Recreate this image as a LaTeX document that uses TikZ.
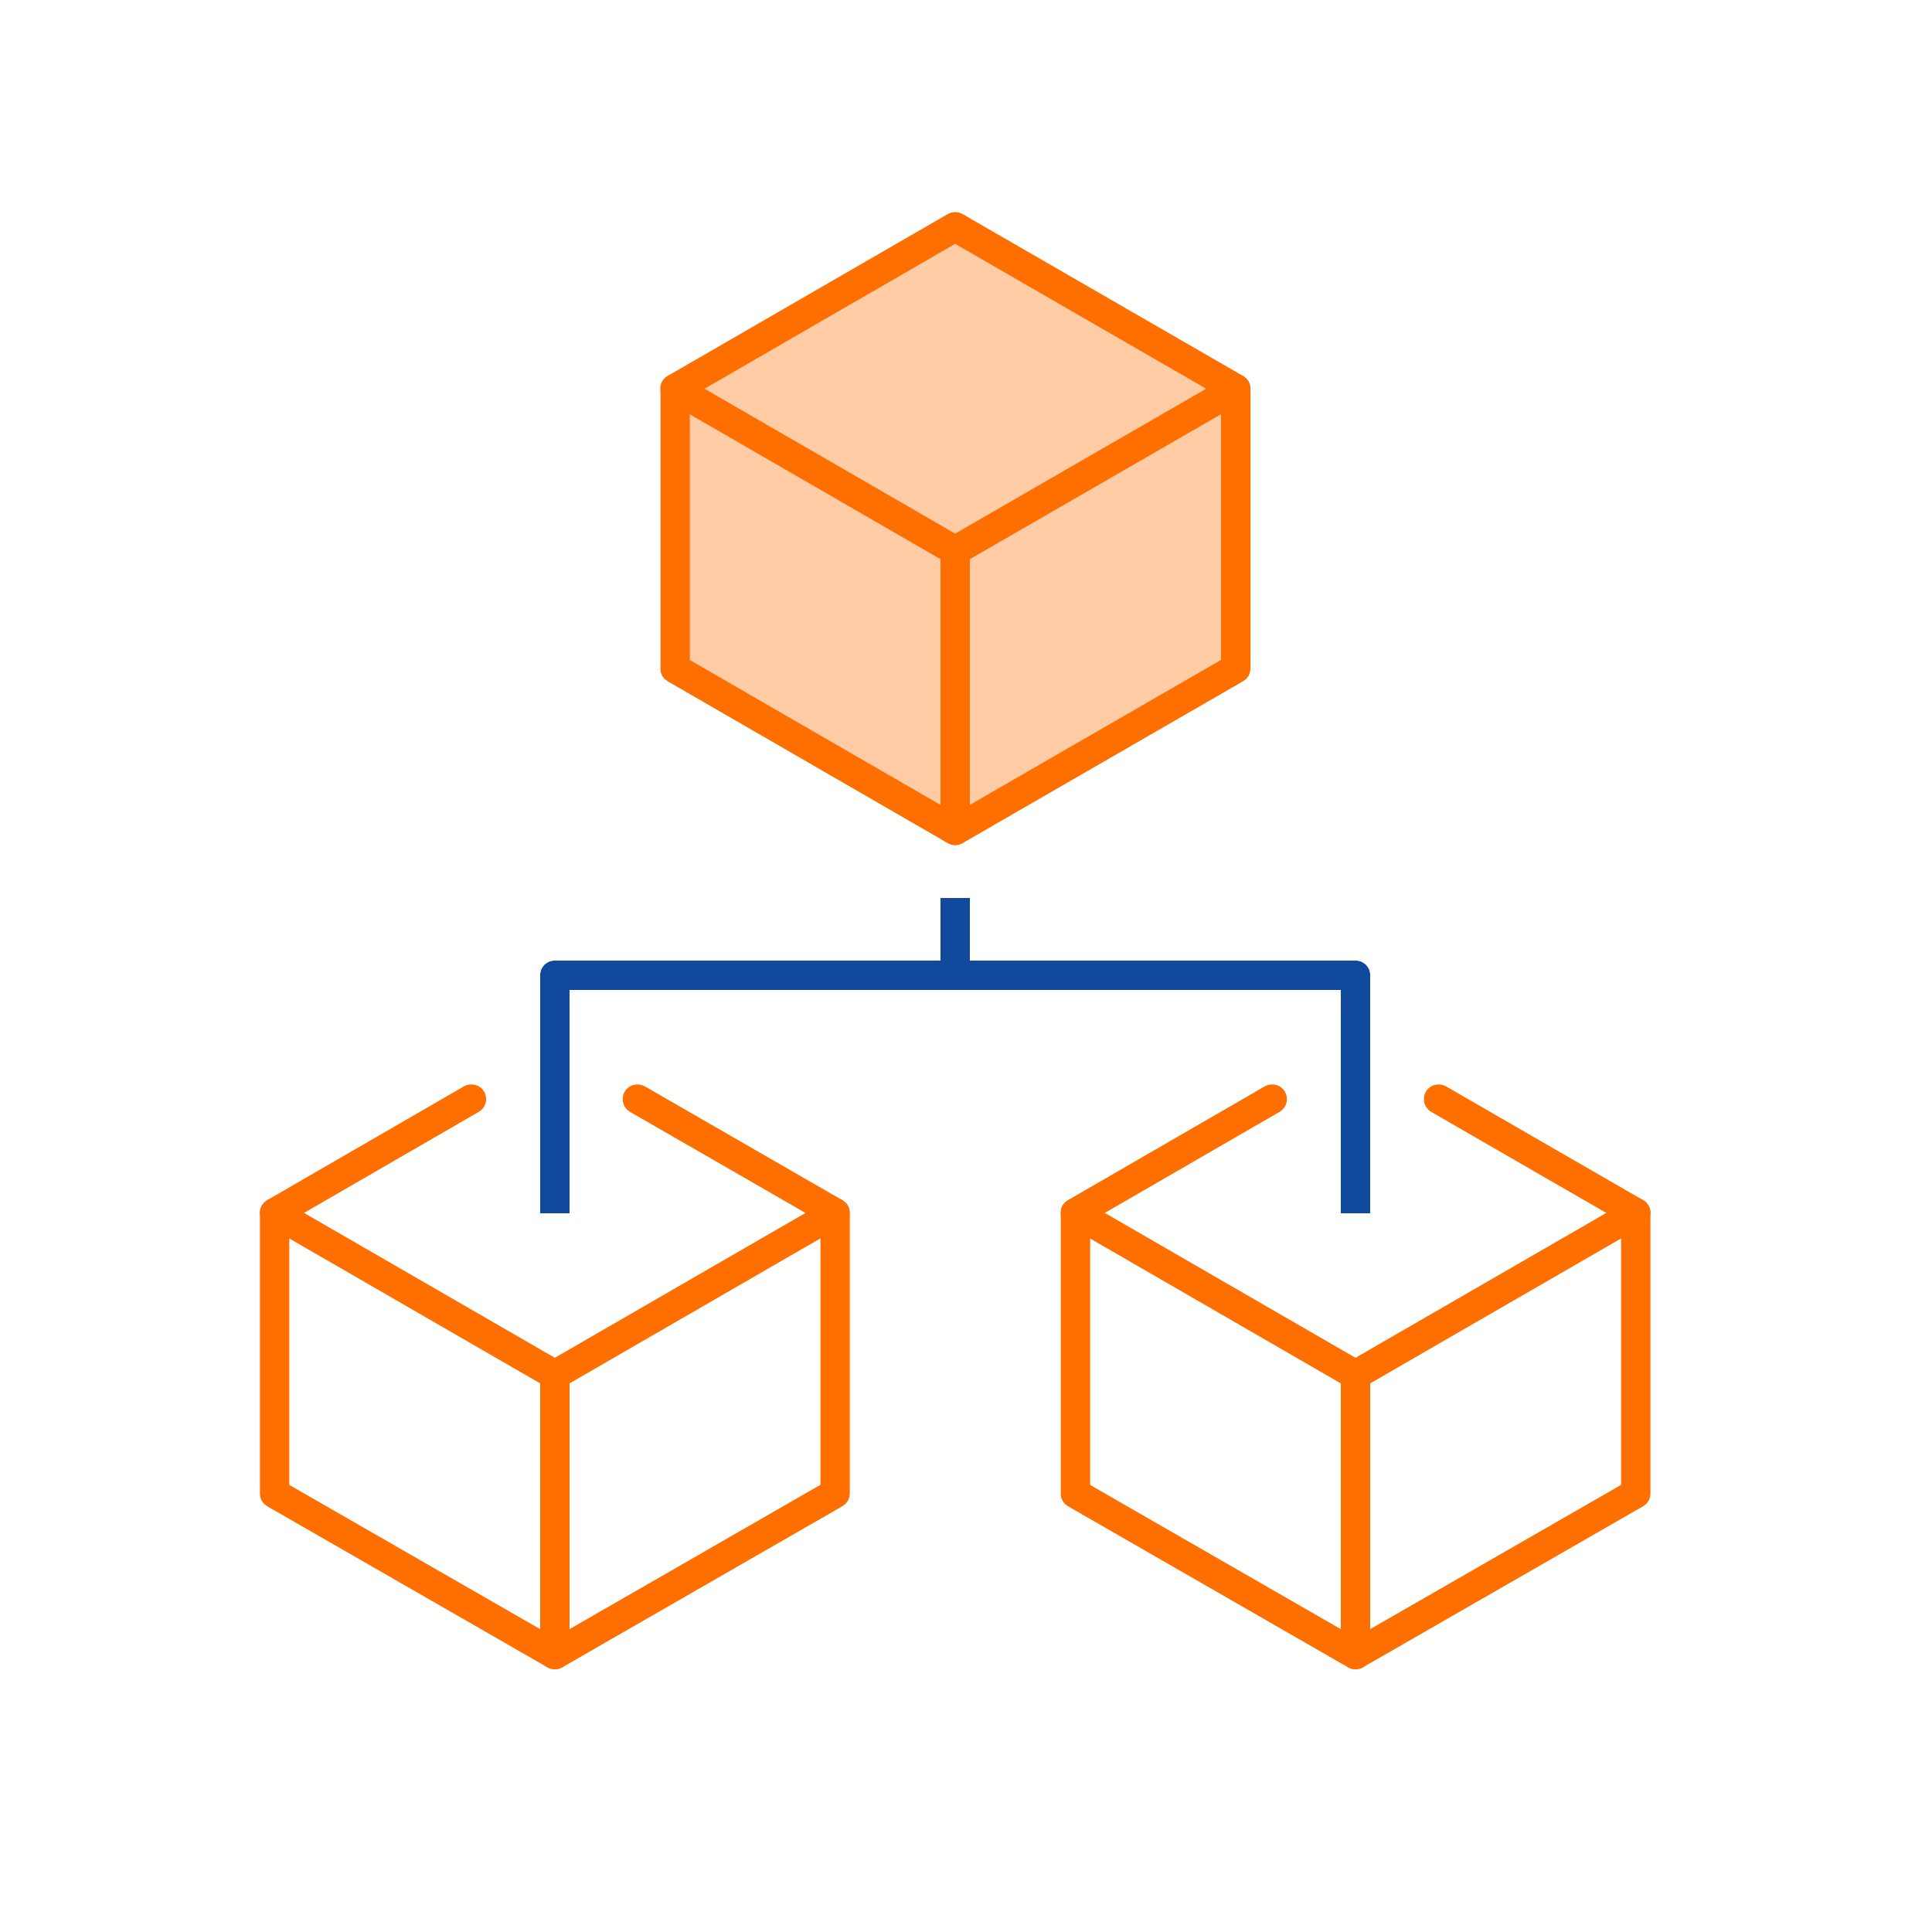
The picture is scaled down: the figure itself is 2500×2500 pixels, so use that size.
\documentclass[tikz,border=0pt]{standalone}
\usepackage{xcolor}
\definecolor{boxcol}{HTML}{FF6F00}
\definecolor{boxfill}{HTML}{FFCCA6}
\definecolor{buscol}{HTML}{11499C}
\tikzset{box/.style={draw=boxcol,line width=3.8mm,line join=round,line cap=round}}
\tikzset{bus/.style={draw=buscol,line width=3.8mm,line join=round}}

\begin{document}
\begin{tikzpicture}[x=0.1mm,y=-0.1mm]
    \useasboundingbox (0,0) rectangle (2500,2500);

    \coordinate (T) at (1236,293.5);
    \coordinate (TL) at (873.5,503);
    \coordinate (TR) at (1599,503);
    \coordinate (TC) at (1236,712.5);
    \coordinate (TB) at (1236,1074.5);
    \coordinate (TBL) at (873.5,865);
    \coordinate (TBR) at (1599,865);

    \draw[box,fill=boxfill] (T) -- (TR) -- (TBR) -- (TB) -- (TBL) -- (TL) -- cycle;
    \draw[box] (TL) -- (TC) -- (TR);
    \draw[box] (TC) -- (TB);

    \coordinate (AS1) at (610,1422.2);
    \coordinate (AS2) at (824.8,1422.2);
    \coordinate (AL) at (355.3,1569.5);
    \coordinate (AR) at (1080.5,1569.5);
    \coordinate (AC) at (718,1779);
    \coordinate (AB) at (718,2141);
    \coordinate (ABL) at (355.3,1932.5);
    \coordinate (ABR) at (1080.5,1932.5);

    \draw[box] (AS1) -- (AL) -- (ABL) -- (AB) -- (ABR) -- (AR) -- (AS2);
    \draw[box] (AL) -- (AC) -- (AR);
    \draw[box] (AC) -- (AB);

    \coordinate (BS1) at (1646.2,1422.2);
    \coordinate (BS2) at (1861.5,1422.2);
    \coordinate (BL) at (1391.5,1569.5);
    \coordinate (BR) at (2116.7,1569.5);
    \coordinate (BC) at (1754,1779);
    \coordinate (BB) at (1754,2141);
    \coordinate (BBL) at (1391.5,1932.5);
    \coordinate (BBR) at (2116.7,1932.5);

    \draw[box] (BS1) -- (BL) -- (BBL) -- (BB) -- (BBR) -- (BR) -- (BS2);
    \draw[box] (BL) -- (BC) -- (BR);
    \draw[box] (BC) -- (BB);

    \coordinate (S) at (1236,1162);
    \coordinate (J) at (1236,1262);
    \coordinate (P) at (718,1570);
    \coordinate (Q) at (1754,1570);

    \draw[bus] (P) |- (Q |- J) -- (Q);
    \draw[bus] (S) -- (J);
\end{tikzpicture}
\end{document}
